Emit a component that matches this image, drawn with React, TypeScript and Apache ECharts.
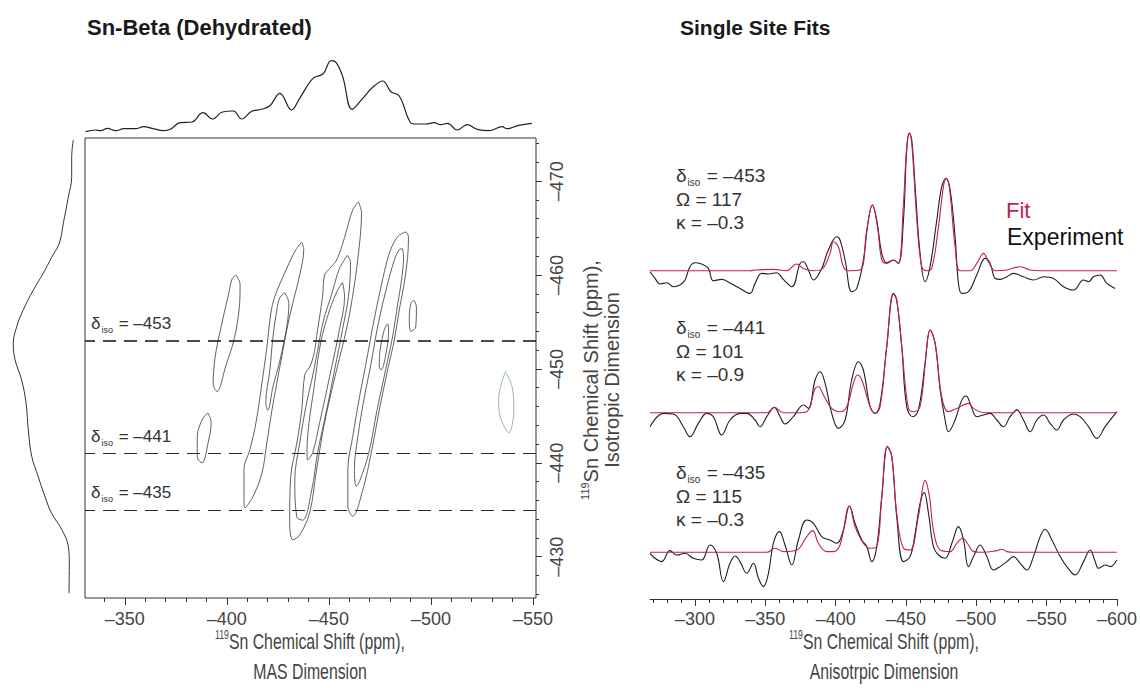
import React, { useEffect, useRef } from 'react';
import * as echarts from 'echarts';

// ---------------- data ----------------
const mainTitle = 'Sn-Beta (Dehydrated)';
const fitsTitle = 'Single Site Fits';

const masTicks = [-350, -400, -450, -500, -550];
const masMinorTicks = [-340, -360, -370, -380, -390, -410, -420, -430, -440, -460, -470, -480, -490, -510, -520, -530, -540];
const isoTicks = [-470, -460, -450, -440, -430];
const isoMinorTicks = [-474, -472, -468, -466, -464, -462, -458, -456, -454, -452, -448, -446, -444, -442, -438, -436, -434, -432, -428, -426];
const anisoTicks = [-300, -350, -400, -450, -500, -550, -600];
const anisoMinorTicks = [-270, -280, -290, -310, -320, -330, -340, -360, -370, -380, -390, -410, -420, -430, -440, -460, -470, -480, -490, -510, -520, -530, -540, -560, -570, -580, -590];

// site parameters
const siteIso = [-453, -441, -435];
const siteOmega = [117, 101, 115];
const siteKappa = [-0.3, -0.9, -0.3];

// projection onto MAS dimension [ppm, intensity]
const masProjection = [[-330.8,4.3],[-335.7,6],[-338.2,5.3],[-341.4,7.7],[-345.5,5.3],[-349.5,7.3],[-355.2,7.3],[-359.3,9.3],[-363.4,7.7],[-369.0,5.3],[-372.3,6.7],[-377.2,13.3],[-382.9,14],[-388.3,23.3],[-393.1,17],[-397.5,23.7],[-403.2,25],[-407.3,17],[-412.2,24.7],[-417.0,26.7],[-421.1,30.3],[-426.0,42.7],[-431.7,26],[-435.7,37.7],[-442.2,57.7],[-447.1,62],[-451.2,75.3],[-453.6,73.3],[-456.8,59.3],[-461.4,26.7],[-466.6,37.7],[-471.5,48.7],[-476.4,55],[-480.4,44.3],[-484.5,40],[-489.7,14.3],[-492.6,12],[-497.5,12],[-501.6,13.3],[-504.8,11.3],[-508.1,12.7],[-512.9,6],[-517.8,11.3],[-522.7,6.7],[-528.4,5.3],[-534.9,9.3],[-537.3,7.3],[-543.0,10.7],[-549.5,12.7]];

// projection onto isotropic dimension [ppm, intensity]
const isoProjection = [[-474.4,1.7],[-472.6,3.3],[-470.5,3.3],[-468.3,6.7],[-465.5,11.7],[-463.4,15.7],[-461.9,23.3],[-460.2,31.7],[-458.4,41.7],[-456.3,51.7],[-454.5,58.3],[-452.7,61.7],[-451.0,60],[-448.8,53.3],[-446.4,49],[-443.5,46.7],[-440.7,43.3],[-438.5,36.7],[-436.4,30],[-434.6,23.3],[-432.9,13.3],[-431.1,6.7],[-429.3,5.7],[-426.1,6]];

// contour loops [MAS ppm, iso ppm]
const contourA = [[-404.5,-460.0],[-406.5,-459.0],[-406.0,-456.3],[-403.5,-453.1],[-399.6,-450.4],[-395.2,-447.6],[-393.3,-448.4],[-394.3,-451.3],[-397.2,-454.5],[-401.1,-458.2],[-402.6,-459.6]];
const contourB = [[-390.8,-445.3],[-392.3,-444.3],[-390.8,-442.1],[-387.9,-440.0],[-385.5,-440.6],[-385.5,-442.8],[-388.4,-444.8]];
const contourC1 = [[-436.7,-463.5],[-437.7,-462.7],[-435.7,-460.0],[-432.3,-457.0],[-429.4,-454.2],[-426.9,-451.3],[-424.5,-448.5],[-422.1,-445.6],[-419.6,-442.1],[-417.2,-438.9],[-412.8,-436.4],[-408.9,-435.2],[-408.4,-436.6],[-408.4,-439.3],[-411.3,-441.4],[-414.3,-444.3],[-417.2,-448.5],[-419.6,-452.3],[-421.6,-456.0],[-423.5,-457.7],[-428.9,-460.5],[-433.8,-462.7]];
const contourC2 = [[-428.4,-458.1],[-430.4,-457.0],[-429.4,-454.5],[-426.0,-450.9],[-422.6,-448.1],[-420.1,-445.6],[-419.1,-446.4],[-421.1,-449.9],[-422.6,-453.4],[-424.5,-456.3],[-426.0,-457.6]];
const contourM1 = [[-464.5,-467.8],[-466.0,-466.6],[-464.5,-462.3],[-461.6,-457.7],[-458.6,-454.2],[-453.8,-449.9],[-447.9,-444.3],[-444.0,-439.3],[-440.6,-434.7],[-435.7,-432.3],[-432.3,-431.8],[-430.8,-433.6],[-431.3,-438.5],[-434.3,-442.1],[-436.7,-445.6],[-438.2,-449.4],[-440.6,-450.2],[-442.6,-451.5],[-444.5,-454.2],[-446.9,-457.7],[-447.9,-460.0],[-450.4,-460.7],[-453.8,-461.6],[-457.7,-464.0],[-461.6,-466.9]];
const contourM2 = [[-459.1,-462.1],[-460.6,-461.3],[-459.6,-457.7],[-456.7,-454.2],[-452.8,-449.9],[-448.9,-445.6],[-444.5,-441.1],[-441.6,-437.1],[-437.2,-433.9],[-434.3,-434.2],[-433.3,-438.2],[-435.7,-442.1],[-439.1,-446.4],[-441.6,-448.8],[-444.5,-452.0],[-447.4,-455.2],[-451.3,-457.9],[-455.2,-460.7]];
const contourM3 = [[-456.7,-459.2],[-457.7,-457.7],[-455.2,-454.2],[-450.4,-449.2],[-445.5,-444.3],[-442.1,-441.1],[-439.6,-440.3],[-439.3,-441.4],[-440.3,-444.3],[-442.6,-447.8],[-446.0,-452.8],[-450.4,-456.3],[-454.3,-458.4]];
const contourR1 = [[-487.8,-464.6],[-489.0,-464.1],[-488.6,-461.9],[-486.9,-459.1],[-484.5,-456.3],[-482.1,-453.1],[-478.8,-449.9],[-474.7,-445.6],[-470.7,-441.0],[-466.6,-437.1],[-461.7,-434.3],[-459.3,-435.4],[-459.3,-439.3],[-461.7,-442.8],[-465.0,-447.0],[-468.2,-450.6],[-471.5,-454.5],[-475.6,-458.8],[-479.6,-462.3],[-483.7,-464.1]];
const contourR2 = [[-486.1,-462.8],[-486.6,-461.9],[-485.6,-459.5],[-483.8,-457.0],[-481.2,-453.4],[-477.8,-449.9],[-473.6,-445.6],[-469.5,-441.0],[-465.0,-438.0],[-463.4,-437.5],[-462.5,-439.3],[-464.2,-442.8],[-467.4,-447.0],[-470.7,-450.6],[-473.9,-454.5],[-478.0,-458.4],[-482.1,-461.6],[-484.5,-462.7]];
const contourR3 = [[-478.8,-454.8],[-479.3,-454.3],[-478.3,-452.0],[-475.6,-449.9],[-474.7,-450.2],[-475.1,-452.0],[-477.2,-454.2]];
const contourS = [[-491.8,-457.3],[-492.9,-456.6],[-492.6,-454.5],[-490.2,-454.0],[-489.4,-455.2],[-490.2,-457.0]];
const contourFaint = [[-536.5,-449.7],[-539.8,-448.1],[-540.6,-445.6],[-538.2,-443.2],[-534.0,-444.9],[-533.2,-446.8]];
const contourLoops = [contourA, contourB, contourC1, contourC2, contourM1, contourM2, contourM3, contourR1, contourR2, contourR3, contourS];

// anisotropic slices [ppm, intensity]
const expTop = [[-268.0,-1],[-271.6,-7.7],[-275.1,-13.3],[-279.9,-12],[-284.6,-16],[-289.3,-14.3],[-292.9,-9.3],[-296.4,4],[-300.0,8],[-304.7,6.7],[-309.5,2.3],[-313.0,-10],[-319.0,-8.7],[-326.1,-13.3],[-332.0,-17.7],[-339.1,-22.7],[-342.7,-12.7],[-347.4,-2.7],[-352.2,-3.3],[-358.1,-2],[-362.8,-8.7],[-368.8,-16],[-374.7,7.3],[-377.1,9],[-380.6,0.7],[-384.2,-9.3],[-390.1,2.3],[-394.8,20.7],[-400.8,34],[-403.1,30.7],[-406.7,10.7],[-411.4,-21],[-415.0,-17.7],[-419.7,10.7],[-423.3,50.7],[-426.1,65.7],[-429.2,50.7],[-432.8,17.3],[-436.3,8],[-441.1,10.7],[-444.6,7.3],[-448.2,50.7],[-450.5,120.7],[-452.4,137.3],[-454.1,130.7],[-456.5,84],[-460.0,17.3],[-463.6,-11],[-467.1,4],[-471.9,50.7],[-475.4,84],[-478.5,92.3],[-481.4,80.7],[-484.9,34],[-487.3,-12.7],[-489.7,-22.7],[-494.4,-21],[-500.3,-4.3],[-506.3,12.3],[-509.8,7.3],[-513.4,-7.7],[-516.9,-8.7],[-521.7,-6],[-526.4,-2.7],[-533.5,-6],[-540.6,-9.3],[-547.8,-6],[-554.9,-7.7],[-562.0,-16],[-569.1,-19.3],[-576.2,-9.3],[-579.8,-11],[-583.3,-6],[-588.1,-4.3],[-592.8,-12.7],[-598.7,-17.7]];
const fitTop = [[-268,0],[-339.1,0],[-342.7,0.7],[-355.7,1.3],[-365.2,0],[-372.3,6.7],[-377.1,2.3],[-384.2,0],[-390.1,1.3],[-396.0,17.3],[-398.4,29],[-401.9,24],[-405.5,4],[-409.1,0],[-417.4,0.7],[-422.1,40.7],[-426.1,65.7],[-429.7,44],[-432.8,10.7],[-436.3,7.3],[-441.1,10.7],[-444.6,7.3],[-448.2,67.3],[-450.5,124],[-452.4,138],[-454.1,127.3],[-457.7,50.7],[-461.2,4],[-464.8,0],[-468.3,2.3],[-473.1,44],[-476.6,84],[-478.5,92.3],[-480.9,82.3],[-484.9,24],[-488.5,0],[-495.6,0],[-500.3,7.3],[-505.1,17.3],[-508.6,9],[-513.4,0],[-521.7,0.7],[-531.2,4],[-538.3,0.7],[-545.4,0],[-599.9,0]];
const expMid = [[-268.0,-14],[-277.5,-0.7],[-284.6,-1.3],[-291.7,-14],[-296.4,-24],[-302.4,-10.7],[-308.3,-0.7],[-313.0,-4],[-319.0,-22.3],[-324.9,-7.3],[-332.0,-0.7],[-336.8,-0.7],[-342.7,-7.3],[-346.2,-14],[-351.0,-4],[-356.4,5.3],[-360.5,-4],[-364.0,-11.3],[-369.9,-4],[-377.1,7.7],[-380.6,4.3],[-385.4,32.7],[-388.9,41],[-392.5,29.3],[-397.2,-0.7],[-402.0,-15.7],[-406.7,-7.3],[-411.4,32.7],[-416.2,51],[-419.7,42.7],[-424.5,6],[-428.0,-0.7],[-431.6,9.3],[-436.3,66],[-441.1,119.3],[-443.4,112.7],[-447.0,66],[-450.5,6],[-454.8,-4],[-458.8,2.7],[-463.6,49.3],[-467.1,82.7],[-470.7,69.3],[-474.3,22.7],[-477.8,-7.3],[-480.2,-19],[-484.9,-7.3],[-489.7,12.7],[-492.8,16.7],[-495.6,9.3],[-500.3,-4],[-505.1,-2.3],[-509.8,-0.7],[-514.6,-7.3],[-519.3,-14],[-524.0,-4],[-528.8,2.7],[-533.5,-7.3],[-538.3,-19],[-543.0,-7.3],[-547.8,-2.3],[-552.5,-10.7],[-557.2,-17.3],[-562.0,-7.3],[-569.1,-1.3],[-573.8,-4],[-579.8,-14],[-585.7,-25.7],[-591.6,-14],[-599.9,1]];
const fitMid = [[-268,0],[-351.0,0],[-356.4,5.3],[-362.8,0],[-372.3,0],[-379.4,1],[-385.4,24.3],[-387.7,26],[-391.3,17.7],[-397.2,4.3],[-403.1,1],[-407.9,6],[-412.6,29.3],[-415.5,37.7],[-418.6,32.7],[-424.5,6],[-428.0,-0.7],[-431.6,6],[-436.3,66],[-441.1,118.7],[-443.4,112.7],[-447.0,66],[-451.7,4.3],[-455.3,1],[-460.0,6],[-464.8,66],[-467.1,82.7],[-470.7,69.3],[-475.4,16],[-480.2,1],[-486.1,4.3],[-494.4,9.3],[-498.0,4.3],[-505.1,0],[-526.4,0],[-528.8,3.3],[-531.2,0],[-599.9,0]];
const expBot = [[-268.0,-1],[-271.6,-6],[-276.3,-9.3],[-282.2,1.7],[-287.0,-2.7],[-292.9,-1],[-298.8,-6],[-304.7,-7.7],[-310.7,7.3],[-315.4,-1],[-320.2,-29.3],[-324.9,-11],[-328.5,-3.7],[-332.0,-9.3],[-336.8,-21],[-341.5,-11],[-345.1,-26],[-348.6,-34.3],[-352.2,-21],[-355.7,9],[-360.0,20.7],[-364.0,7.3],[-368.8,-12.7],[-373.5,12.3],[-379.4,32.3],[-384.2,29],[-390.1,15.7],[-396.0,12.3],[-400.8,9],[-405.5,22.3],[-409.8,46.3],[-413.8,29],[-418.6,12.3],[-422.1,5.7],[-425.7,-9.3],[-429.2,5.7],[-432.8,55.7],[-436.8,105.7],[-439.9,95.7],[-443.4,35.7],[-448.2,-9.3],[-452.9,-4.3],[-456.5,19],[-460.0,49],[-462.9,59.7],[-466.0,39],[-469.5,5.7],[-473.1,-2.7],[-477.8,-6],[-482.6,9],[-487.3,25.7],[-490.9,12.3],[-494.4,-14.3],[-498.0,-4.3],[-502.7,7.3],[-507.5,-4.3],[-512.2,-17.7],[-516.9,-14.3],[-521.7,-9.3],[-526.4,-4.3],[-531.2,-11],[-535.9,-17.7],[-540.6,-4.3],[-545.4,15.7],[-548.9,23],[-553.7,12.3],[-559.6,-4.3],[-564.3,-14.3],[-570.3,-22.7],[-576.2,-9.3],[-580.9,2.3],[-584.5,-9.3],[-586.9,-16],[-591.6,-12.7],[-595.2,-14.3],[-599.9,-7.7]];
const fitBot = [[-268,0],[-351.0,0],[-356.9,4],[-362.8,0.7],[-372.3,2.3],[-379.4,15.7],[-383.7,21.7],[-387.7,9],[-393.7,0.7],[-398.4,0.7],[-403.1,7.3],[-409.8,46.3],[-413.8,25.7],[-419.7,9],[-424.5,4],[-429.2,5.7],[-432.8,55.7],[-436.8,105.7],[-439.9,95.7],[-443.4,39],[-448.2,4],[-452.9,2.3],[-458.8,35.7],[-463.6,71.7],[-466.7,55.7],[-469.5,22.3],[-474.3,2.3],[-481.4,0.7],[-486.1,9],[-490.4,14],[-494.4,7.3],[-498.0,0.7],[-505.1,0],[-514.6,1.7],[-518.1,3],[-521.7,0.7],[-526.4,0],[-599.9,0]];

const expSlices = [expTop, expMid, expBot];
const fitSlices = [fitTop, fitMid, fitBot];

// ---------------- styles / layout ----------------
const FONT = '"Liberation Sans", Arial, sans-serif';
const SLICE_OFFSETS = [328.3, 186.3, 46.7];
const FIT_COLOR = '#c41f4f';
const EXP_COLOR = '#1e1e1e';
const dash = (v: number) => '\u2013' + Math.abs(v);

const tickLabel = { color: '#444', fontFamily: FONT, fontSize: 18 };
const tickLine = { color: '#333', width: 1 };

function buildOption() {
  const deltaRich = {
    d: { fontFamily: FONT, fontSize: 17, color: '#333', lineHeight: 22 },
    s: { fontFamily: FONT, fontSize: 9, color: '#333', verticalAlign: 'bottom', lineHeight: 9, padding: [0, 1, 0, 1] },
  };

  const contourSeries = contourLoops.map((loop) => ({
    type: 'line', xAxisIndex: 0, yAxisIndex: 0, data: [...loop, loop[0]], smooth: 0.35,
    symbol: 'none', silent: true, lineStyle: { color: '#3a3a3a', width: 0.8 }, z: 3,
  }));

  const sliceSeries: any[] = [];
  expSlices.forEach((s, k) => {
    sliceSeries.push({
      type: 'line', xAxisIndex: 4, yAxisIndex: 4, smooth: 0.4, symbol: 'none', silent: true,
      data: s.map(([p, v]) => [p, v + SLICE_OFFSETS[k]]), lineStyle: { color: EXP_COLOR, width: 1.1 }, z: 3,
    });
  });
  fitSlices.forEach((s, k) => {
    sliceSeries.push({
      type: 'line', xAxisIndex: 4, yAxisIndex: 4, smooth: 0.4, symbol: 'none', silent: true,
      data: s.map(([p, v]) => [p, v + SLICE_OFFSETS[k]]), lineStyle: { color: FIT_COLOR, width: 1.1 }, z: 4,
    });
  });

  const siteTexts: any[] = [];
  const siteY = [175, 327, 472];
  siteIso.forEach((d, k) => {
    siteTexts.push({
      type: 'text', x: 676, y: siteY[k],
      style: {
        text: `{d|δ}{s|iso}{d| = ${dash(d)}}`,
        rich: {
          d: { fontFamily: FONT, fontSize: 19, fill: '#333', lineHeight: 24 },
          s: { fontFamily: FONT, fontSize: 10, fill: '#333', verticalAlign: 'bottom', lineHeight: 10, padding: [0, 1, 0, 1] },
        },
        verticalAlign: 'middle', textVerticalAlign: 'middle',
      },
    });
    siteTexts.push({
      type: 'text', x: 676, y: siteY[k] + 24,
      style: { text: `Ω = ${siteOmega[k]}`, font: `19px ${FONT}`, fill: '#333', verticalAlign: 'middle', textVerticalAlign: 'middle' },
    });
    siteTexts.push({
      type: 'text', x: 676, y: siteY[k] + 47,
      style: { text: `κ = ${dash(siteKappa[k])}`, font: `19px ${FONT}`, fill: '#333', verticalAlign: 'middle', textVerticalAlign: 'middle' },
    });
  });

  const axisTitleRich = {
    sup: { fontFamily: FONT, fontSize: 12, fill: '#444', verticalAlign: 'top', lineHeight: 26 },
    n: { fontFamily: FONT, fontSize: 22, fill: '#444', lineHeight: 26 },
  };
  const rotTitleRich = {
    sup: { fontFamily: FONT, fontSize: 11, fill: '#444', verticalAlign: 'top', lineHeight: 24 },
    n: { fontFamily: FONT, fontSize: 20, fill: '#444', lineHeight: 24 },
  };
  const centered = { align: 'center', textAlign: 'center', verticalAlign: 'middle', textVerticalAlign: 'middle' };

  return {
    animation: false,
    backgroundColor: '#ffffff',
    grid: [
      { left: 85, top: 138, width: 451, height: 460, show: true, borderColor: '#333', borderWidth: 1, backgroundColor: 'transparent' },
      { left: 85, top: 50, width: 451, height: 86 },
      { left: 0, top: 138, width: 75, height: 460 },
      { left: 650, top: 120, width: 467, height: 479 },
    ],
    xAxis: [
      {
        gridIndex: 0, type: 'value', min: -551.5, max: -330.5, inverse: true, position: 'bottom',
        axisLine: { show: false }, splitLine: { show: false },
        axisTick: { show: true, customValues: masTicks, length: 7, lineStyle: tickLine },
        axisLabel: { show: true, customValues: masTicks, formatter: dash, margin: 12, ...tickLabel },
      },
      {
        gridIndex: 0, type: 'value', min: -551.5, max: -330.5, inverse: true, position: 'bottom',
        axisLine: { show: false }, splitLine: { show: false },
        axisTick: { show: true, customValues: masMinorTicks, length: 4, lineStyle: tickLine },
        axisLabel: { show: false },
      },
      { gridIndex: 1, type: 'value', min: -551.5, max: -330.5, inverse: true, show: false },
      { gridIndex: 2, type: 'value', min: 0, max: 75, inverse: true, show: false },
      {
        gridIndex: 3, type: 'value', min: -600, max: -268, inverse: true, position: 'bottom',
        axisLine: { show: true, lineStyle: { color: '#333', width: 1 } }, splitLine: { show: false },
        axisTick: { show: true, customValues: anisoTicks, length: 7, lineStyle: tickLine },
        axisLabel: { show: true, customValues: anisoTicks, formatter: dash, margin: 11, ...tickLabel },
      },
      {
        gridIndex: 3, type: 'value', min: -600, max: -268, inverse: true, position: 'bottom',
        axisLine: { show: false }, splitLine: { show: false },
        axisTick: { show: true, customValues: anisoMinorTicks, length: 4, lineStyle: tickLine },
        axisLabel: { show: false },
      },
    ],
    yAxis: [
      {
        gridIndex: 0, type: 'value', min: -474.6, max: -425.6, inverse: true, position: 'right',
        axisLine: { show: false }, splitLine: { show: false },
        axisTick: { show: true, customValues: isoTicks, length: 6, lineStyle: tickLine },
        axisLabel: { show: true, customValues: isoTicks, formatter: dash, rotate: 90, margin: 12, ...tickLabel },
      },
      {
        gridIndex: 0, type: 'value', min: -474.6, max: -425.6, inverse: true, position: 'right',
        axisLine: { show: false }, splitLine: { show: false },
        axisTick: { show: true, customValues: isoMinorTicks, length: 3, lineStyle: tickLine },
        axisLabel: { show: false },
      },
      { gridIndex: 1, type: 'value', min: 0, max: 86, show: false },
      { gridIndex: 2, type: 'value', min: -474.6, max: -425.6, inverse: true, show: false },
      { gridIndex: 3, type: 'value', min: 0, max: 479, show: false },
    ],
    series: [
      ...contourSeries,
      {
        type: 'line', xAxisIndex: 0, yAxisIndex: 0, data: [...contourFaint, contourFaint[0]], smooth: 0.35,
        symbol: 'none', silent: true, lineStyle: { color: '#8fb0ae', width: 0.9 },
      },
      {
        type: 'line', xAxisIndex: 0, yAxisIndex: 0, data: [], symbol: 'none', silent: true,
        markLine: {
          silent: true, symbol: ['none', 'none'], animation: false,
          data: siteIso.map((d, i) => ({
            yAxis: d,
            lineStyle: { type: [13, 8], color: i === 0 ? '#111' : '#2a2a2a', width: i === 0 ? 1.6 : 1.1 },
            label: {
              show: true, position: 'insideEndTop', distance: [6, 6],
              formatter: `{d|δ}{s|iso}{d| = ${dash(d)}}`, rich: deltaRich,
            },
          })),
        },
      },
      {
        type: 'line', xAxisIndex: 2, yAxisIndex: 2, data: masProjection, smooth: 0.4, symbol: 'none', silent: true,
        lineStyle: { color: '#222', width: 1.2 },
      },
      {
        type: 'line', xAxisIndex: 3, yAxisIndex: 3, data: isoProjection.map(([p, v]) => [v, p]), smooth: 0.4,
        symbol: 'none', silent: true, lineStyle: { color: '#333', width: 1 },
      },
      ...sliceSeries,
    ],
    graphic: [
      { type: 'text', x: 87, y: 27, style: { text: mainTitle, font: `bold 22px ${FONT}`, fill: '#1a1a1a', verticalAlign: 'middle', textVerticalAlign: 'middle' } },
      { type: 'text', x: 680, y: 27, style: { text: fitsTitle, font: `bold 21px ${FONT}`, fill: '#1a1a1a', verticalAlign: 'middle', textVerticalAlign: 'middle' } },
      { type: 'text', x: 1006, y: 210, style: { text: 'Fit', font: `22px ${FONT}`, fill: FIT_COLOR, verticalAlign: 'middle', textVerticalAlign: 'middle' } },
      { type: 'text', x: 1007, y: 237, style: { text: 'Experiment', font: `23px ${FONT}`, fill: '#111', verticalAlign: 'middle', textVerticalAlign: 'middle' } },
      ...siteTexts,
      { type: 'text', x: 310, y: 642, scaleX: 0.72, style: { text: '{sup|119}{n|Sn Chemical Shift (ppm),}', rich: axisTitleRich, ...centered } },
      { type: 'text', x: 310, y: 672, scaleX: 0.72, style: { text: 'MAS Dimension', font: `22px ${FONT}`, fill: '#444', ...centered } },
      { type: 'text', x: 884, y: 642, scaleX: 0.72, style: { text: '{sup|119}{n|Sn Chemical Shift (ppm),}', rich: axisTitleRich, ...centered } },
      { type: 'text', x: 884, y: 672, scaleX: 0.72, style: { text: 'Anisotrpic Dimension', font: `22px ${FONT}`, fill: '#444', ...centered } },
      { type: 'text', x: 591, y: 380, rotation: Math.PI / 2, style: { text: '{sup|119}{n|Sn Chemical Shift (ppm),}', rich: rotTitleRich, ...centered } },
      { type: 'text', x: 612, y: 380, rotation: Math.PI / 2, style: { text: 'Isotropic Dimension', font: `20px ${FONT}`, fill: '#444', ...centered } },
    ],
  };
}

export default function App() {
  const ref = useRef<HTMLDivElement>(null);
  useEffect(() => {
    if (!ref.current) return;
    const chart = echarts.init(ref.current, undefined, { renderer: 'svg' });
    chart.setOption(buildOption() as any);
    return () => chart.dispose();
  }, []);
  return (
    <div
      ref={ref}
      style={{ position: 'fixed', left: 0, top: 0, width: 1140, height: 688, background: '#fff' }}
    />
  );
}
